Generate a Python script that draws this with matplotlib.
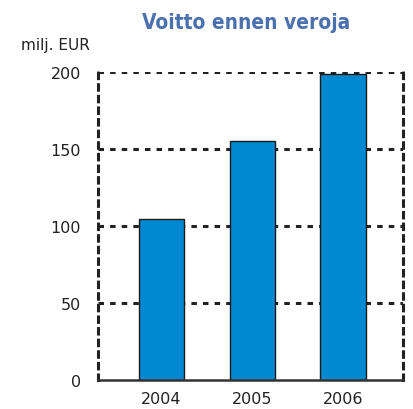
import numpy as np
import matplotlib.pyplot as plt

vuodet = ['2004', '2005', '2006']
voitto = [104.5, 155, 198.5]
yticks = [0, 50, 100, 150, 200]

fig = plt.figure(figsize=(4.13, 4.10), dpi=100)
ax = fig.add_axes([0.237, 0.071, 0.739, 0.751])

x = np.arange(len(vuodet))
ax.bar(x, voitto, width=0.5, color='#0088d0', edgecolor='#1a1a1a', linewidth=1.0, zorder=3)

ax.set_xlim(-0.7, 2.66)
ax.set_ylim(0, 200)
ax.set_yticks(yticks)
ax.set_xticks(x)
ax.set_xticklabels(vuodet)
ax.tick_params(length=0, labelsize=11.5, pad=8, labelcolor='#222222')
ax.tick_params(axis='y', pad=12)

viiva = (0, (1.8, 2.0))
for y in yticks[1:]:
    ax.axhline(y, color='#222222', linestyle=viiva, linewidth=2.2, zorder=1)

for s in ['left', 'right']:
    ax.spines[s].set_linestyle(viiva)
    ax.spines[s].set_linewidth(2.2)
    ax.spines[s].set_color('#222222')
ax.spines['top'].set_visible(False)
ax.spines['bottom'].set_linewidth(1.8)
ax.spines['bottom'].set_color('#333333')
ax.spines['bottom'].set_zorder(4)

fig.text(0.595, 0.945, 'Voitto ennen veroja', ha='center', va='center',
         fontsize=15, fontweight='bold', color='#4a70ad', fontstretch='condensed')
fig.text(0.05, 0.89, 'milj. EUR', ha='left', va='center', fontsize=11, color='#222222')

fig.savefig('out.png', dpi=100)
